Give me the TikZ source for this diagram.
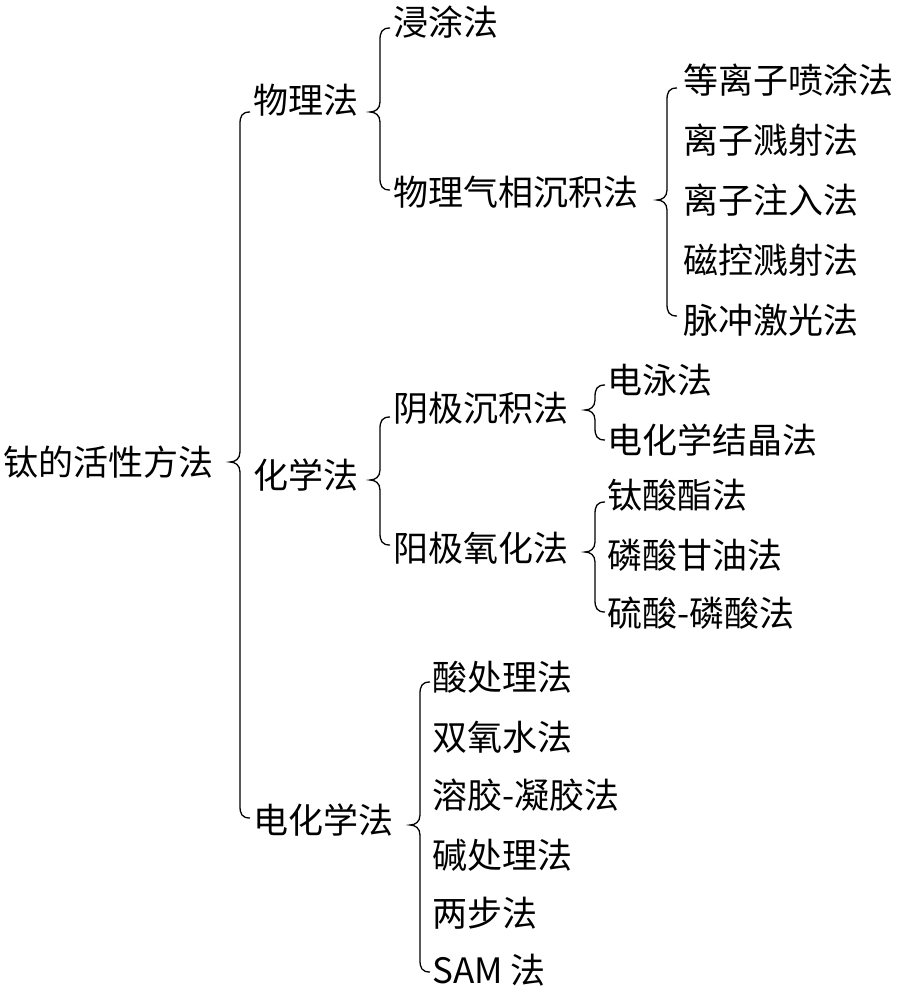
\documentclass[tikz,border=0pt]{standalone}
\usepackage{fontspec}
\setmainfont{Liberation Serif}
\newfontfamily\cjk{Noto Sans CJK SC}
\newcommand\mybrace[4]{% x, top, bottom, tip
  \draw[brc] (#1+10,#2) .. controls (#1+2,#2) and (#1,#2+4) .. (#1,#2+12)
    -- (#1,#4-10) .. controls (#1,#4-3) and (#1-5,#4) .. (#1-10,#4)
    .. controls (#1-5,#4) and (#1,#4+3) .. (#1,#4+10)
    -- (#1,#3-12) .. controls (#1,#3-4) and (#1+2,#3) .. (#1+10,#3);}
\begin{document}
\begin{tikzpicture}[x=1pt,y=-1pt,
  lbl/.style={anchor=west,inner sep=0pt,font=\cjk\fontsize{35}{40}\selectfont},
  brc/.style={line width=1.3pt}]
\useasboundingbox (0,0) rectangle (908,992);
\node[lbl] (root) at (3,462) {钛的活性方法};
\node[lbl] (wl) at (253,100) {物理法};
\node[lbl] (hx) at (253,475) {化学法};
\node[lbl] (dh) at (253,820) {电化学法};
\node[lbl] (jt) at (393,22) {浸涂法};
\node[lbl] (wq) at (393,192) {物理气相沉积法};
\node[lbl] (a1) at (683,80) {等离子喷涂法};
\node[lbl] (a2) at (683,140) {离子溅射法};
\node[lbl] (a3) at (683,200) {离子注入法};
\node[lbl] (a4) at (683,260) {磁控溅射法};
\node[lbl] (a5) at (683,320) {脉冲激光法};
\node[lbl] (yj) at (393,408) {阴极沉积法};
\node[lbl] (yy) at (393,548) {阳极氧化法};
\node[lbl] (b1) at (607,380) {电泳法};
\node[lbl] (b2) at (607,440) {电化学结晶法};
\node[lbl] (c1) at (607,495) {钛酸酯法};
\node[lbl] (c2) at (607,555) {磷酸甘油法};
\node[lbl] (c3) at (607,613) {硫酸-磷酸法};
\node[lbl] (d1) at (432,677) {酸处理法};
\node[lbl] (d2) at (432,737) {双氧水法};
\node[lbl] (d3) at (432,795) {溶胶-凝胶法};
\node[lbl] (d4) at (432,855) {碱处理法};
\node[lbl] (d5) at (432,913) {两步法};
\node[lbl] (d6) at (432,970) {SAM 法};
\mybrace{240}{112}{818}{462}
\mybrace{380}{28}{190}{112}
\mybrace{667}{88}{316}{200}
\mybrace{380}{417}{545}{480}
\mybrace{595}{385}{440}{410}
\mybrace{595}{502}{612}{552}
\mybrace{420}{682}{972}{825}
\end{tikzpicture}
\end{document}
